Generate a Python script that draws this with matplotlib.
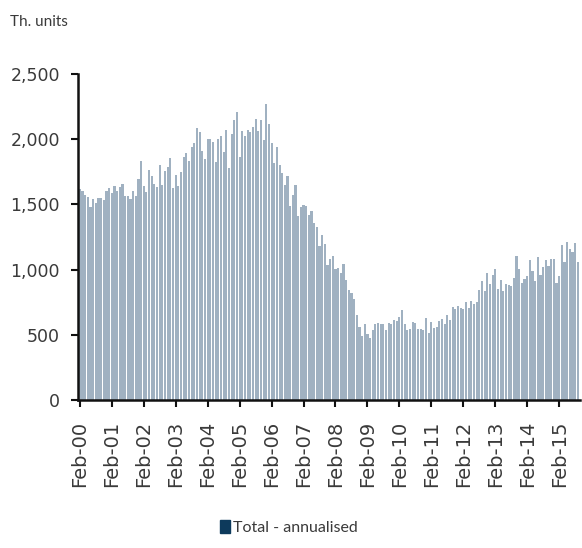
import matplotlib
matplotlib.use("Agg")
import matplotlib.pyplot as plt
import matplotlib.patches as mpatches
import numpy as np

# Monthly housing starts (th. units, annualised), Feb-2000 .. Oct-2015
values = [
    # 2000 Feb-Dec
    1620, 1600, 1570, 1560, 1480, 1540, 1510, 1550, 1550, 1530,
    # 2001
    1600, 1625, 1590, 1640, 1605, 1636, 1660, 1567, 1562, 1540, 1602, 1568,
    # 2002
    1698, 1829, 1642, 1592, 1764, 1717, 1655, 1633, 1804, 1648, 1753, 1788,
    # 2003
    1853, 1629, 1726, 1643, 1751, 1867, 1897, 1833, 1939, 1967, 2083, 2057,
    # 2004
    1911, 1846, 1998, 2003, 1981, 1828, 2002, 2024, 1905, 2072, 1782, 2042,
    # 2005
    2144, 2207, 1864, 2061, 2025, 2068, 2054, 2095, 2151, 2065, 2147, 1994,
    # 2006
    2273, 2119, 1969, 1821, 1942, 1802, 1737, 1650, 1720, 1491, 1570, 1649,
    # 2007
    1409, 1480, 1495, 1490, 1415, 1448, 1354, 1330, 1183, 1264, 1197, 1037,
    # 2008
    1084, 1103, 1005, 1013, 973, 1046, 923, 844, 820, 777, 652, 560,
    # 2009
    490, 582, 505, 478, 540, 585, 594, 586, 585, 534, 588, 581,
    # 2010
    614, 604, 636, 687, 583, 536, 546, 599, 594, 543, 545, 539,
    # 2011
    630, 517, 600, 554, 561, 608, 623, 585, 650, 610, 711, 697,
    # 2012
    720, 704, 695, 753, 708, 757, 740, 754, 847, 915, 833, 976,
    # 2013
    888, 962, 1005, 853, 919, 835, 891, 883, 873, 936, 1105, 1003,
    # 2014
    897, 928, 953, 1070, 989, 909, 1097, 957, 1017, 1076, 1025, 1081,
    # 2015 Jan-Oct
    1080, 900, 954, 1190, 1060, 1211, 1161, 1132, 1206, 1060,
]
tick_labels = ["Feb-00", "Feb-01", "Feb-02", "Feb-03", "Feb-04", "Feb-05",
               "Feb-06", "Feb-07", "Feb-08", "Feb-09", "Feb-10", "Feb-11",
               "Feb-12", "Feb-13", "Feb-14", "Feb-15"]
y_ticks = [0, 500, 1000, 1500, 2000, 2500]
y_tick_labels = ["0", "500", "1,000", "1,500", "2,000", "2,500"]
legend_label = "Total - annualised"
unit_label = "Th. units"

text_color = "#3a3a3a"
narrow = ["Lato", "DejaVu Sans"]

fig = plt.figure(figsize=(5.82, 5.48), dpi=100)
ax = fig.add_axes([0.134, 0.270, 0.862, 0.595])

x = np.arange(len(values))
ax.bar(x, values, width=0.8, color="#a0b1c1", linewidth=0)

ax.set_xlim(-0.7, len(values) - 0.3)
ax.set_ylim(0, 2500)
ax.set_yticks(y_ticks)
ax.set_yticklabels(y_tick_labels, fontsize=12.5, color=text_color)
ax.set_xticks(np.arange(len(tick_labels)) * 12)
ax.set_xticklabels(tick_labels, rotation=90, fontsize=14, color=text_color)

for side in ("top", "right"):
    ax.spines[side].set_visible(False)
for side in ("left", "bottom"):
    ax.spines[side].set_linewidth(1.8)
    ax.spines[side].set_color("#111111")
ax.tick_params(axis="both", direction="out", length=5, width=1.5, color="#111111")
ax.tick_params(axis="y", pad=8)
ax.tick_params(axis="x", pad=10)

fig.text(0.017, 0.96, unit_label, fontsize=11, family=narrow,
         color=text_color, va="center", ha="left")

handle = mpatches.Patch(color="#0d3a5c", label=legend_label)
fig.legend(handles=[handle], loc="center", bbox_to_anchor=(0.497, 0.038),
           frameon=False, prop={"family": narrow, "size": 11.5},
           handlelength=0.6, handleheight=0.9,
           handletextpad=0.2, labelcolor=text_color)

fig.savefig("out.png", dpi=100, facecolor="white")
